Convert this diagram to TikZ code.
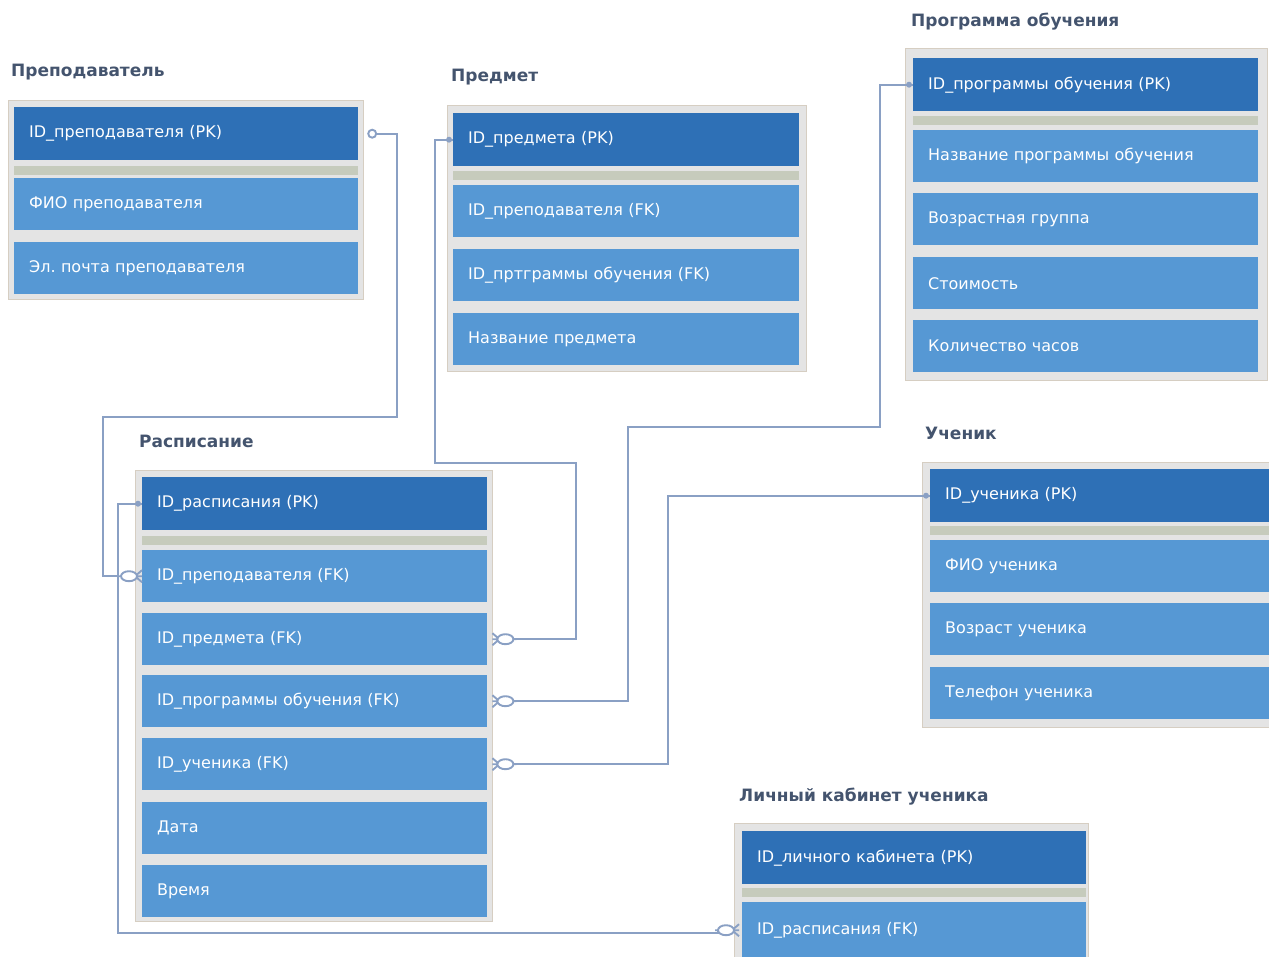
\documentclass[tikz,border=0pt]{standalone}
\usepackage{fontspec}
\setmainfont{DejaVu Sans}
\frenchspacing
\definecolor{hdr}{RGB}{46,112,182}
\definecolor{rowc}{RGB}{86,152,212}
\definecolor{boxbg}{RGB}{228,228,228}
\definecolor{boxbd}{RGB}{214,206,194}
\definecolor{sepc}{RGB}{198,203,188}
\definecolor{titc}{RGB}{68,84,110}
\definecolor{linec}{RGB}{138,160,196}
\tikzset{
  outerbox/.style={fill=boxbg, draw=boxbd, line width=1.2pt, anchor=north west, inner sep=0pt},
  pkrow/.style={fill=hdr, anchor=north west, inner xsep=15pt, inner ysep=0pt, text width=#1, align=left, text=white, minimum height=53pt, font=\fontsize{16}{18}\selectfont},
  fkrow/.style={fill=rowc, anchor=north west, inner xsep=15pt, inner ysep=0pt, text width=#1, align=left, text=white, minimum height=52pt, font=\fontsize{16}{18}\selectfont},
  sepband/.style={fill=sepc, anchor=north west, inner sep=0pt, minimum height=9pt},
  title/.style={anchor=west, text=titc, inner sep=0pt, font=\bfseries\fontsize{17}{19}\selectfont},
  conn/.style={draw=linec, line width=1.9pt},
  crowE/.pic={\draw[conn] (0,0) -- (7,0) (0,-6) -- (7,0) (0,6) -- (7,0) (14,0) -- (24,0);
              \draw[conn, fill=white] (13,0) ellipse (8 and 5);},
  crowW/.pic={\draw[conn] (0,0) -- (-7,0) (0,-6) -- (-7,0) (0,6) -- (-7,0) (-14,0) -- (-24,0);
              \draw[conn, fill=white] (-13,0) ellipse (8 and 5);},
}
\begin{document}
\begin{tikzpicture}[x=1pt,y=-1pt]
\useasboundingbox (0,0) rectangle (1269,956);
\fill[white] (0,0) rectangle (1269,956);

% ---------- Преподаватель ----------
\node[title] (tPrep) at (11,72) {Преподаватель};
\node[outerbox, minimum width=355pt, minimum height=199pt] (bPrep) at (8,100) {};
\node[pkrow=314pt] (prep0) at (14,107) {ID\_преподавателя (PK)};
\node[sepband, minimum width=344pt] (sPrep) at (14,166) {};
\node[fkrow=314pt] (prep1) at (14,178) {ФИО преподавателя};
\node[fkrow=314pt] (prep2) at (14,242) {Эл. почта преподавателя};

% ---------- Предмет ----------
\node[title] (tPred) at (451,77) {Предмет};
\node[outerbox, minimum width=359pt, minimum height=266pt] (bPred) at (447,105) {};
\node[pkrow=316pt] (pred0) at (453,113) {ID\_предмета (PK)};
\node[sepband, minimum width=346pt] (sPred) at (453,171) {};
\node[fkrow=316pt] (pred1) at (453,185) {ID\_преподавателя (FK)};
\node[fkrow=316pt] (pred2) at (453,249) {ID\_пртграммы обучения (FK)};
\node[fkrow=316pt] (pred3) at (453,313) {Название предмета};

% ---------- Программа обучения ----------
\node[title] (tProg) at (911,22) {Программа обучения};
\node[outerbox, minimum width=362pt, minimum height=332pt] (bProg) at (905,48) {};
\node[pkrow=315pt] (prog0) at (913,58) {ID\_программы обучения (PK)};
\node[sepband, minimum width=345pt] (sProg) at (913,116) {};
\node[fkrow=315pt] (prog1) at (913,130) {Название программы обучения};
\node[fkrow=315pt] (prog2) at (913,193) {Возрастная группа};
\node[fkrow=315pt] (prog3) at (913,257) {Стоимость};
\node[fkrow=315pt] (prog4) at (913,320) {Количество часов};

% ---------- Ученик ----------
\node[title] (tUch) at (925,433) {Ученик};
\node[outerbox, minimum width=360pt, minimum height=265pt] (bUch) at (922,462) {};
\node[pkrow=320pt] (uch0) at (930,469) {ID\_ученика (PK)};
\node[sepband, minimum width=350pt] (sUch) at (930,526) {};
\node[fkrow=320pt] (uch1) at (930,540) {ФИО ученика};
\node[fkrow=320pt] (uch2) at (930,603) {Возраст ученика};
\node[fkrow=320pt] (uch3) at (930,667) {Телефон ученика};

% ---------- Личный кабинет ученика ----------
\node[title] (tLk) at (739,797) {Личный кабинет ученика};
\node[outerbox, minimum width=354pt, minimum height=140pt] (bLk) at (734,823) {};
\node[pkrow=314pt] (lk0) at (742,831) {ID\_личного кабинета (PK)};
\node[sepband, minimum width=344pt] (sLk) at (742,888) {};
\node[fkrow=314pt, minimum height=56pt] (lk1) at (742,902) {ID\_расписания (FK)};

% ---------- Расписание ----------
\node[title] (tRasp) at (139,441) {Расписание};
\node[outerbox, minimum width=357pt, minimum height=451pt] (bRasp) at (135,470) {};
\node[pkrow=315pt] (r0) at (142,477) {ID\_расписания (PK)};
\node[sepband, minimum width=345pt] (sRasp) at (142,536) {};
\node[fkrow=315pt] (r1) at (142,550) {ID\_преподавателя (FK)};
\node[fkrow=315pt] (r2) at (142,613) {ID\_предмета (FK)};
\node[fkrow=315pt] (r3) at (142,675) {ID\_программы обучения (FK)};
\node[fkrow=315pt] (r4) at (142,738) {ID\_ученика (FK)};
\node[fkrow=315pt] (r5) at (142,802) {Дата};
\node[fkrow=315pt] (r6) at (142,865) {Время};

% ---------- connectors ----------
% Преподаватель -> Расписание
\coordinate (c1a) at (397,0);
\coordinate (c1b) at (103,417);
\draw[conn] ([xshift=13pt]bPrep.east |- prep0.east) -- (c1a |- prep0.east) -- (c1a |- c1b) -- (c1b) -- (c1b |- r1.west) -- ([xshift=-24pt]r1.west);
\draw[conn, fill=white] ([xshift=8pt]bPrep.east |- prep0.east) circle (4);
\pic at (r1.west) {crowW};

% Предмет -> Расписание
\coordinate (c2a) at (435,463);
\coordinate (c2b) at (576,463);
\draw[conn] (pred0.west) -- (c2a |- pred0.west) -- (c2a) -- (c2b) -- (c2b |- r2.east) -- ([xshift=24pt]r2.east);
\fill[linec] ([xshift=-4pt]pred0.west) circle (3);
\pic at ([xshift=5pt]r2.east) {crowE};

% Программа обучения -> Расписание
\coordinate (c3a) at (880,427);
\coordinate (c3b) at (628,427);
\draw[conn] (prog0.west) -- (c3a |- prog0.west) -- (c3a) -- (c3b) -- (c3b |- r3.east) -- ([xshift=24pt]r3.east);
\fill[linec] ([xshift=-4pt]prog0.west) circle (3);
\pic at ([xshift=5pt]r3.east) {crowE};

% Ученик -> Расписание
\coordinate (c4a) at (668,0);
\draw[conn] (uch0.west) -- (c4a |- uch0.west) -- (c4a |- r4.east) -- ([xshift=24pt]r4.east);
\fill[linec] ([xshift=-4pt]uch0.west) circle (3);
\pic at ([xshift=5pt]r4.east) {crowE};

% Расписание -> Личный кабинет
\coordinate (c5a) at (118,933);
\draw[conn] (r0.west) -- (c5a |- r0.west) -- (c5a) -- ([xshift=-24pt]lk1.west |- c5a) -- ([xshift=-24pt]lk1.west);
\fill[linec] ([xshift=-4pt]r0.west) circle (3);
\pic at ([xshift=-3pt]lk1.west) {crowW};
\end{tikzpicture}
\end{document}
